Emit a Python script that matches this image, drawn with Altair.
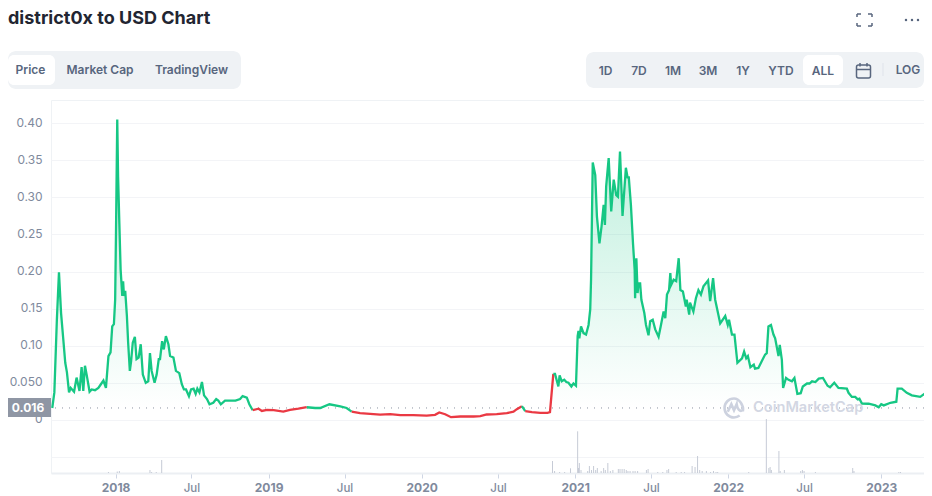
import altair as alt
import pandas as pd

# ---- price series: days since 2018-01-01 and USD price ----
days_2017_18 = [-151,-146,-140,-135,-130,-124,-120,-116,-111,-107,-99,-93,-86,-81,-77,-73,-69,-62,-57,-49,-41,-35,-29,-23,-17,-12,-8,-4,-1,1,4,6,9,12,16,18,20,23,27,30,34,37,41,46,50,55,60,65,72,78,82,86,93,98,103,106,111,115,120,126,130,138,144,152,158,163,168,175,180,186,191,195,200,206,211,218,224,233,240,245,251,261,273,279,286,297,303,313,319,327]
price_2017_18 = [.016,.037,.135,.199,.144,.104,.077,.064,.037,.043,.038,.057,.039,.071,.039,.073,.061,.038,.041,.040,.043,.048,.053,.043,.086,.091,.126,.129,.162,.252,.405,.328,.265,.203,.167,.187,.167,.174,.140,.104,.066,.079,.104,.112,.082,.084,.102,.061,.050,.052,.090,.066,.050,.061,.082,.082,.106,.095,.113,.102,.086,.084,.066,.063,.048,.041,.041,.032,.041,.042,.035,.042,.037,.051,.033,.028,.021,.023,.028,.026,.021,.026,.026,.026,.026,.028,.032,.030,.021,.013]
days_2019_20 = [341,349,361,377,400,416,436,456,476,488,510,536,551,563,583,607,631,655,679,710,742,762,772,786,800,822,854,870,885,909,933,949,957,969,977,993,1013,1030,1036]
price_2019_20 = [.015,.012,.0135,.013,.011,.0135,.015,.017,.016,.016,.021,.018,.016,.011,.009,.008,.007,.0076,.0063,.0063,.0058,.0067,.0099,.0076,.0036,.0045,.0045,.005,.0072,.0076,.009,.011,.0144,.0184,.0117,.0103,.0094,.0094,.0103]
days_2020_21 = [1044,1048,1056,1059,1064,1070,1075,1080,1087,1092,1098,1102,1104,1106,1110,1116,1122,1128,1132,1134,1138,1144,1148,1154,1159,1164,1167,1170,1176,1182,1188,1194,1198,1203,1209,1217,1221,1224,1229,1234,1238,1239,1242,1245,1247,1251,1254,1261,1265,1271,1275,1281,1287,1295,1300,1307,1311,1315,1320,1323,1325,1331,1337,1343,1347,1353,1360,1362,1368,1370,1378,1384,1390,1396,1402,1413,1418,1425,1430,1442,1454,1460,1463,1470,1476]
price_2020_21 = [.062,.062,.045,.060,.052,.054,.051,.050,.045,.049,.046,.113,.120,.110,.126,.117,.115,.128,.149,.190,.347,.330,.274,.238,.261,.290,.263,.315,.353,.281,.324,.303,.301,.362,.275,.340,.327,.327,.290,.238,.202,.164,.218,.171,.184,.184,.162,.144,.128,.114,.133,.135,.122,.112,.126,.146,.137,.169,.175,.198,.182,.189,.187,.218,.175,.173,.153,.162,.142,.158,.146,.164,.175,.169,.180,.188,.160,.191,.162,.130,.140,.128,.135,.115,.115]
days_2022_23 = [1483,1494,1499,1504,1508,1514,1522,1525,1533,1541,1549,1553,1557,1563,1569,1573,1581,1584,1589,1592,1599,1605,1613,1619,1626,1634,1639,1649,1655,1661,1669,1677,1687,1698,1704,1714,1724,1744,1748,1756,1764,1770,1774,1780,1796,1812,1820,1826,1832,1848,1862,1865,1875,1887,1899,1919,1929,1939,1947]
price_2022_23 = [.077,.083,.092,.083,.086,.071,.0745,.069,.070,.079,.088,.090,.126,.128,.115,.110,.086,.101,.081,.043,.0565,.054,.052,.0565,.035,.036,.045,.049,.049,.052,.051,.0556,.0565,.046,.044,.050,.043,.042,.0365,.031,.031,.0276,.0285,.022,.0217,.0195,.017,.021,.0195,.023,.0244,.042,.042,.0365,.033,.031,.035,.030,.031]

# ---- volume (relative units) ----
vol_days = [-17,4,9,82,86,97,110,1042,1047,1059,1071,1085,1102,1104,1106,1110,1126,1130,1135,1140,1145,1149,1158,1164,1168,1174,1180,1186,1199,1203,1208,1213,1218,1222,1227,1234,1239,1245,1266,1270,1293,1305,1315,1319,1337,1349,1357,1375,1382,1388,1393,1399,1409,1419,1426,1432,1436,1510,1552,1558,1561,1564,1582,1585,1595,1634,1638,1642,1669,1758,1761,1868,1872]
vol_vals = [1,1.5,2,3,1,1,13,12,2,1,1,4.7,41.7,5,10,3,2,7,3,7,3,5,2,5,3,10,2,3,4,4,4,4,3,2,2,2,2,2,3,4,1,1,3,4,1,1,1,7,6,17,3,2,2,1,2,1,1,1,54,5,6,3,22,2,3,2,3,2,1,5,2,1,1]

y_ticks = [-0.05, 0, 0.05, 0.10, 0.15, 0.20, 0.25, 0.30, 0.35, 0.40]
tabs_left = [("Price", 30.5), ("Market Cap", 100), ("TradingView", 191.5)]
tabs_right = [("1D", 605.5), ("7D", 639), ("1M", 673), ("3M", 708), ("1Y", 743), ("YTD", 781), ("ALL", 823), ("LOG", 908)]
REF = 0.016
GREEN, RED = "#16c784", "#ea3943"
FONT = "Inter"
LEFT, TOP = 51, 100   # page position of plot area

start = pd.Timestamp("2018-01-01")
days = days_2017_18 + days_2019_20 + days_2020_21 + days_2022_23
price = price_2017_18 + price_2019_20 + price_2020_21 + price_2022_23
dates = [start + pd.Timedelta(days=d) for d in days]
df = pd.DataFrame({"date": dates, "price": price})
df["fill"] = df["price"].clip(lower=REF)

# split line into green/red runs, each sharing the boundary point
rows, run = [], 0
for i in range(len(df)):
    side = "up" if df.price[i] >= REF else "down"
    rows.append({"date": df.date[i], "price": df.price[i], "side": side, "run": run})
    if i + 1 < len(df) and ("up" if df.price[i + 1] >= REF else "down") != side:
        rows.append({"date": df.date[i + 1], "price": df.price[i + 1], "side": side, "run": run})
        run += 1
lines = pd.DataFrame(rows)

vol = pd.DataFrame({"date": [start + pd.Timedelta(days=d) for d in vol_days], "vol": vol_vals})
vol["zero"] = 0

x_scale = alt.Scale(domain=[alt.DateTime(year=2017, month=7, date=31), alt.DateTime(year=2023, month=4, date=13)])
x_vals = []
for y in range(2018, 2024):
    x_vals.append(alt.DateTime(year=y, month=1, date=1))
    if y < 2023:
        x_vals.append(alt.DateTime(year=y, month=7, date=1))
x_axis = alt.Axis(
    values=x_vals, title=None, grid=False, labelExpr="month(datum.value)==0 ? timeFormat(datum.value,'%Y') : 'Jul'",
    labelFont=FONT, labelColor="#808a9d", labelPadding=4,
    labelFontSize={"condition": {"test": "month(datum.value)==0", "value": 12}, "value": 11.5},
    labelFontWeight={"condition": {"test": "month(datum.value)==0", "value": 700}, "value": 500},
    domainColor="#eceff3", domainWidth=2, tickColor="#cfd6e4", tickSize=5, labelFlush=False, labelOverlap=False,
)
y_scale = alt.Scale(domain=[-0.0717, 0.4314], nice=False, zero=False)
y_axis = alt.Axis(
    values=y_ticks, title=None, domain=False, ticks=False, gridColor="#f3f4f7", gridWidth=1,
    labelExpr="datum.value<-0.001 ? '' : abs(datum.value)<0.001 ? '0' : abs(datum.value-0.05)<0.001 ? '0.050' : format(datum.value,'.2f')",
    labelFont=FONT, labelFontSize=12, labelColor="#808a9d", labelPadding=9, labelOffset=-1,
)

area = alt.Chart(df).mark_area(
    interpolate="linear", clip=True,
    color=alt.Gradient(gradient="linear", x1=1, x2=1, y1=0, y2=1,
                       stops=[alt.GradientStop(color="rgba(22,199,132,0.30)", offset=0),
                              alt.GradientStop(color="rgba(22,199,132,0.0)", offset=1)]),
).encode(x=alt.X("date:T", scale=x_scale, axis=x_axis), y=alt.Y("fill:Q", scale=y_scale, axis=y_axis), y2=alt.datum(REF))

ref_line = alt.Chart().mark_rule(color="#8a92a0", strokeDash=[1, 6], strokeWidth=1).encode(
    y=alt.datum(REF, scale=y_scale, type="quantitative"))

line = alt.Chart(lines).mark_line(strokeWidth=2.3, interpolate="linear", clip=True).encode(
    x=alt.X("date:T", scale=x_scale, axis=x_axis), y=alt.Y("price:Q", scale=y_scale, axis=y_axis),
    color=alt.Color("side:N", scale=alt.Scale(domain=["up", "down"], range=[GREEN, RED]), legend=None),
    detail="run:N",
)

price_layers = alt.layer(area, ref_line, line)

volume = alt.Chart(vol).mark_rule(color="#c6cbd6", strokeWidth=1).encode(
    x=alt.X("date:T", scale=x_scale, axis=x_axis),
    y=alt.Y("vol:Q", scale=alt.Scale(domain=[0, 54], range=[373, 319], nice=False, zero=False), axis=None),
    y2="zero:Q",
)


def px(v):
    return alt.value(v - LEFT)


def py(v):
    return alt.value(v - TOP)


def rect(x0, x1, y0, y1, fill, radius=0, stroke=None):
    kw = dict(fill=fill, cornerRadius=radius)
    if fill is None:
        kw = dict(fillOpacity=0, cornerRadius=radius)
    if stroke:
        kw.update(stroke=stroke, strokeWidth=1.5)
    return alt.Chart().mark_rect(**kw).encode(x=px(x0), x2=px(x1), y=py(y0), y2=py(y1))


def label(s, x, y, size=12, weight=600, color="#58667e", align="center", opacity=1):
    return alt.Chart().mark_text(text=s, font=FONT, fontSize=size, fontWeight=weight, color=color,
                                 align=align, baseline="middle", opacity=opacity).encode(x=px(x), y=py(y))


def seg(x0, y0, x1, y1, color="#58667e", w=1.5):
    return alt.Chart().mark_rule(color=color, strokeWidth=w).encode(x=px(x0), x2=px(x1), y=py(y0), y2=py(y1))


chrome = [
    label("district0x to USD Chart", 8, 19, size=18, weight=700, color="#222531", align="left"),
    rect(8, 241, 51, 89, "#eff2f5", 8),
    rect(8, 55, 55, 85, "#ffffff", 6),
    rect(586, 924, 52, 88, "#eff2f5", 8),
    rect(803, 843, 55, 85, "#ffffff", 6),
    seg(883, 63, 883, 76, "#dfe3ea", 1),
    # calendar icon
    rect(856.5, 870.5, 65, 78, None, 2, "#58667e"),
    seg(856.5, 69.5, 870.5, 69.5),
    seg(860, 63, 860, 66.5),
    seg(867, 63, 867, 66.5),
]
for s, x in tabs_left:
    chrome.append(label(s, x, 70))
for s, x in tabs_right:
    chrome.append(label(s, x, 70.5 if s != "LOG" else 70))

# fullscreen icon corners
for (x0, y0, dx, dy) in [(857, 14, 4, 3), (872, 14, -4, 3), (857, 26, 4, -3), (872, 26, -4, -3)]:
    chrome.append(seg(x0, y0, x0 + dx, y0, "#58667e", 1.5))
    chrome.append(seg(x0, y0, x0, y0 + dy, "#58667e", 1.5))
# three dots
for x in [906, 912, 918]:
    chrome.append(alt.Chart().mark_circle(size=6, color="#58667e", opacity=1).encode(x=px(x), y=py(20)))

# current-price tag
chrome.append(rect(8, 51, 398, 417, "#8f96a4"))
chrome.append(label("0.016", 28, 407.5, size=12, weight=700, color="#ffffff"))

# watermark
logo = ("M 0.47 0.17 C 0.53 -0.13 0.28 -0.5 0 -0.5 C -0.28 -0.5 -0.5 -0.28 -0.5 0 "
        "C -0.5 0.28 -0.28 0.5 0 0.5 C 0.12 0.5 0.22 0.46 0.3 0.4 "
        "M -0.33 0.2 L -0.14 -0.2 L 0 0.12 L 0.14 -0.2 C 0.17 0.05 0.3 0.22 0.46 0.12")
chrome.append(alt.Chart().mark_point(shape=logo, size=1430, filled=False, stroke="#cdd2df", strokeWidth=2.6, opacity=1)
              .encode(x=px(734), y=py(408)))
chrome.append(label("CoinMarketCap", 753, 408, size=14.6, weight=600, color="#d3d7e3", align="left"))

chart = (
    alt.layer(price_layers, volume, *chrome)
    .resolve_scale(y="independent")
    .properties(width=873, height=373, padding={"left": 43, "top": 92, "right": 0, "bottom": 23},
                autosize=alt.AutoSizeParams(type="none"), background="white")
    .configure_view(stroke="#eff2f5", strokeWidth=1)
)
chart.save("out.html", embed_options={"renderer": "svg", "actions": False})
